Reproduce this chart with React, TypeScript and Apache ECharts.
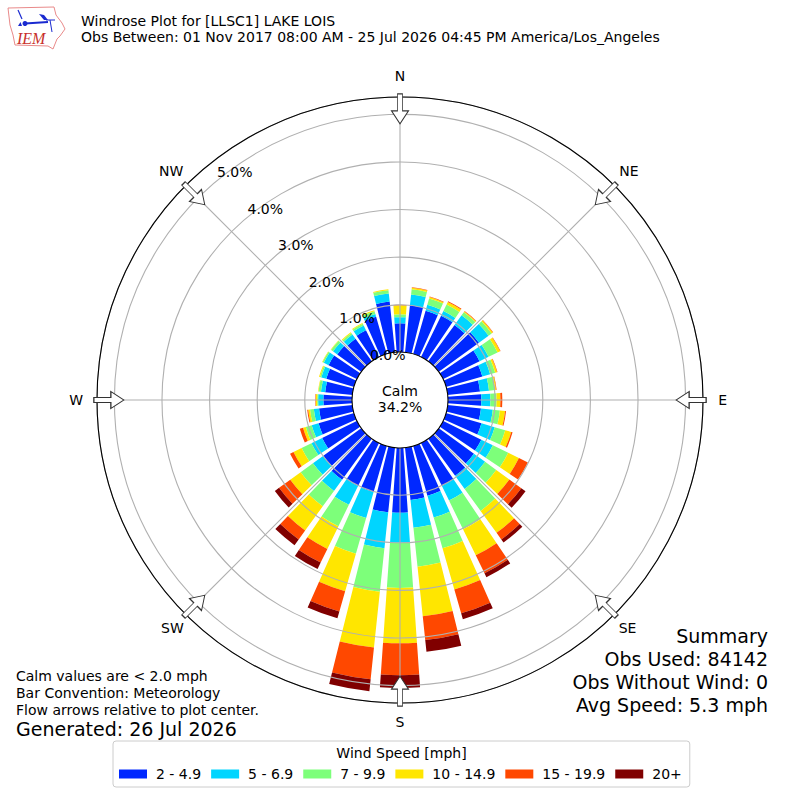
import { useEffect, useRef } from 'react';
import * as echarts from 'echarts';

const FONT = '"DejaVu Sans"';

const speedBins = ['2 - 4.9', '5 - 6.9', '7 - 9.9', '10 - 14.9', '15 - 19.9', '20+'];
const binColors = ['#0028ff', '#00d5ff', '#7dff7a', '#ffe600', '#ff4800', '#800000'];

// direction bins, clockwise from north
const directions = ['0', '10', '20', '30', '40', '50', '60', '70', '80', '90', '100', '110', '120', '130', '140', '150', '160', '170', '180', '190', '200', '210', '220', '230', '240', '250', '260', '270', '280', '290', '300', '310', '320', '330', '340', '350'];

// percent of observations per direction
const speed2 = [0.61, 1.0, 0.95, 0.97, 0.95, 1.05, 0.86, 0.8, 0.69, 0.71, 0.71, 0.78, 0.9, 0.92, 0.97, 1.01, 1.09, 1.11, 1.37, 1.37, 1.01, 1.01, 1.07, 0.99, 0.82, 0.78, 0.71, 0.61, 0.58, 0.61, 0.67, 0.63, 0.59, 0.63, 0.82, 1.08];
const speed5 = [0.13, 0.23, 0.13, 0.11, 0.25, 0.25, 0.21, 0.17, 0.19, 0.19, 0.25, 0.29, 0.27, 0.29, 0.34, 0.34, 0.48, 0.59, 0.63, 0.76, 0.57, 0.44, 0.29, 0.27, 0.25, 0.15, 0.11, 0.11, 0.09, 0.11, 0.11, 0.11, 0.11, 0.11, 0.06, 0.17];
const speed7 = [0.06, 0.11, 0.14, 0.15, 0.08, 0.08, 0.21, 0.11, 0.13, 0.13, 0.15, 0.23, 0.36, 0.29, 0.57, 0.67, 0.67, 0.82, 0.95, 0.92, 0.78, 0.5, 0.4, 0.32, 0.23, 0.13, 0.08, 0.02, 0.05, 0.03, 0.03, 0.05, 0.04, 0.04, 0.06, 0.07];
const speed10 = [0.19, 0.03, 0.03, 0.06, 0.02, 0.03, 0.06, 0.04, 0.02, 0.08, 0.11, 0.13, 0.25, 0.34, 0.57, 0.61, 0.9, 1.05, 1.16, 1.18, 0.82, 0.53, 0.63, 0.27, 0.19, 0.06, 0.04, 0.03, 0.01, 0.02, 0.01, 0.01, 0.02, 0.02, 0.02, 0.02];
const speed15 = [0.01, 0.01, 0.01, 0.02, 0.01, 0.01, 0.01, 0.01, 0.01, 0.04, 0.02, 0.03, 0.21, 0.31, 0.17, 0.42, 0.52, 0.5, 0.67, 0.67, 0.44, 0.32, 0.23, 0.29, 0.08, 0.07, 0.02, 0.01, 0, 0, 0, 0, 0, 0, 0, 0];
const speed20 = [0, 0, 0, 0, 0, 0, 0, 0, 0, 0, 0, 0, 0, 0.11, 0.08, 0.09, 0.13, 0.25, 0.27, 0.25, 0.15, 0.15, 0.15, 0.11, 0, 0, 0, 0, 0, 0, 0, 0, 0, 0, 0, 0];
const speedValues = [speed2, speed5, speed7, speed10, speed15, speed20];

const compassNames = ['N', 'NE', 'E', 'SE', 'S', 'SW', 'W', 'NW'];
const compassAngles = [0, 45, 90, 135, 180, 225, 270, 315];
const compassRadius = [5.8, 5.8, 5.78, 5.76, 5.76, 5.76, 5.8, 5.8];
const percentTicks = [0, 1, 2, 3, 4, 5];

const titleLines = ['Windrose Plot for [LLSC1] LAKE LOIS', 'Obs Between: 01 Nov 2017 08:00 AM - 25 Jul 2026 04:45 PM America/Los_Angeles'];
const summaryLines = ['Summary', 'Obs Used: 84142', 'Obs Without Wind: 0', 'Avg Speed: 5.3 mph'];
const noteLines = ['Calm values are < 2.0 mph', 'Bar Convention: Meteorology', 'Flow arrows relative to plot center.'];

const arrowPath = 'path://M6 0 L11 0 L11 17 L17 17 L8.5 30 L0 17 L6 17 Z';

const radiusAxisBase = { type: 'value', min: -1, max: 5.365, interval: 1 };

function text(str: string, x: number, y: number, size: number, align = 'left') {
  return {
    type: 'text',
    x,
    y,
    z: 30,
    style: { text: str, fontFamily: FONT, fontSize: size, fill: '#000', align, verticalAlign: 'middle' },
  };
}

function logo() {
  const blue = '#1a2ad0';
  return [
    {
      type: 'polygon',
      z: 30,
      shape: { points: [[8, 8], [54, 7], [56, 15], [62, 23], [65, 29], [60, 36], [57, 39], [53, 49], [48, 46], [15, 45], [13, 35], [10, 25]] },
      style: { fill: '#fff', stroke: '#e98a8a', lineWidth: 1 },
    },
    { type: 'line', z: 31, shape: { x1: 25, y1: 23.5, x2: 48, y2: 22 }, style: { stroke: blue, lineWidth: 2 } },
    { type: 'line', z: 31, shape: { x1: 18, y1: 10, x2: 22, y2: 19 }, style: { stroke: blue, lineWidth: 1.2 } },
    { type: 'circle', z: 31, shape: { cx: 25, cy: 23.5, r: 2.5 }, style: { fill: blue } },
    { type: 'polygon', z: 31, shape: { points: [[39, 14], [44, 15], [48, 20], [44, 20]] }, style: { fill: blue } },
    { type: 'polygon', z: 31, shape: { points: [[18, 26], [20.5, 22], [22, 26]] }, style: { fill: blue } },
    { type: 'line', z: 31, shape: { x1: 50, y1: 20, x2: 52, y2: 32 }, style: { stroke: blue, lineWidth: 1 } },
    { type: 'line', z: 31, shape: { x1: 46, y1: 20, x2: 55, y2: 20 }, style: { stroke: blue, lineWidth: 1 } },
    {
      type: 'text',
      x: 17,
      y: 38,
      z: 31,
      style: { text: 'IEM', fontFamily: '"Liberation Serif"', fontStyle: 'italic', fontSize: 16, fill: '#c8302c', align: 'left', verticalAlign: 'middle' },
    },
  ];
}

export default function App() {
  const chartRef = useRef<HTMLDivElement>(null);

  useEffect(() => {
    if (!chartRef.current) return;
    const chart = echarts.init(chartRef.current, undefined, { renderer: 'svg' });

    const barSeries = speedBins.map((name, i) => ({
      name,
      type: 'bar',
      coordinateSystem: 'polar',
      polarIndex: 1,
      stack: 'speed',
      barWidth: '80%',
      z: 2,
      itemStyle: { color: binColors[i] },
      data: speedValues[i],
    }));

    const option: any = {
      animation: false,
      backgroundColor: '#fff',
      textStyle: { fontFamily: FONT },
      polar: [
        { center: [400, 400], radius: 303 },
        { center: [400, 400], radius: 303 },
      ],
      angleAxis: [
        {
          polarIndex: 0,
          type: 'value',
          min: 0,
          max: 360,
          interval: 45,
          startAngle: 90,
          clockwise: true,
          z: 5,
          axisLine: { lineStyle: { color: '#000', width: 1.1 } },
          axisTick: { show: false },
          axisLabel: { show: false },
          splitLine: { lineStyle: { color: '#b0b0b0', width: 1.1 } },
        },
        {
          polarIndex: 1,
          type: 'category',
          data: directions,
          startAngle: 95,
          clockwise: true,
          axisLine: { show: false },
          axisTick: { show: false },
          axisLabel: { show: false },
          splitLine: { show: false },
        },
      ],
      radiusAxis: [
        {
          ...radiusAxisBase,
          polarIndex: 0,
          z: 5,
          axisLine: { show: false },
          axisTick: { show: false },
          axisLabel: { show: false },
          splitLine: { lineStyle: { color: '#b0b0b0', width: 1.1 } },
        },
        {
          ...radiusAxisBase,
          polarIndex: 1,
          axisLine: { show: false },
          axisTick: { show: false },
          axisLabel: { show: false },
          splitLine: { show: false },
        },
      ],
      legend: {
        left: 113,
        top: 741,
        data: speedBins,
        icon: 'rect',
        itemWidth: 28,
        itemHeight: 9,
        itemGap: 10,
        padding: [26, 8, 6, 6],
        borderColor: '#ccc',
        borderWidth: 1,
        borderRadius: 3,
        backgroundColor: '#fff',
        selectedMode: false,
        textStyle: { fontFamily: FONT, fontSize: 14, color: '#000', padding: [0, 0, 0, 4] },
      },
      series: [
        ...barSeries,
        {
          name: 'arrows',
          type: 'scatter',
          coordinateSystem: 'polar',
          polarIndex: 0,
          z: 20,
          silent: true,
          clip: false,
          symbol: arrowPath,
          symbolSize: [17, 30],
          symbolKeepAspect: false,
          itemStyle: { color: '#fff', borderColor: '#333', borderWidth: 1, opacity: 1 },
          data: compassAngles.map(a => ({ value: [5.116, a], symbolRotate: -a })),
        },
        {
          name: 'compass',
          type: 'scatter',
          coordinateSystem: 'polar',
          polarIndex: 0,
          z: 25,
          silent: true,
          clip: false,
          symbolSize: 1,
          itemStyle: { color: 'transparent', opacity: 1 },
          label: { show: true, position: 'inside', formatter: '{b}', fontFamily: FONT, fontSize: 14, color: '#000' },
          data: compassAngles.map((a, i) => ({ name: compassNames[i], value: [compassRadius[i], a] })),
        },
        {
          name: 'percent',
          type: 'scatter',
          coordinateSystem: 'polar',
          polarIndex: 0,
          z: 40,
          zlevel: 1,
          silent: true,
          clip: false,
          symbolSize: 1,
          itemStyle: { color: 'transparent', opacity: 1 },
          label: { show: true, position: 'right', distance: 1, offset: [-1, -9], formatter: '{b}', fontFamily: FONT, fontSize: 14, color: '#000' },
          data: percentTicks.map(p => ({ name: `${p.toFixed(1)}%`, value: [p, 320] })),
        },
      ],
      graphic: [
        { type: 'circle', z: 10, shape: { cx: 400, cy: 400, r: 48 }, style: { fill: '#fff', stroke: '#000', lineWidth: 1.1 } },
        text('Calm', 400, 391, 14, 'center'),
        text('34.2%', 400, 407, 14, 'center'),
        ...logo(),
        text(titleLines[0], 81, 21, 14),
        text(titleLines[1], 81, 37, 14),
        ...summaryLines.map((s, i) => text(s, 768, 636 + i * 23, 19, 'right')),
        ...noteLines.map((s, i) => text(s, 16, 676 + i * 17, 14)),
        text('Generated: 26 Jul 2026', 16, 729, 19),
        text('Wind Speed [mph]', 401.5, 753, 14, 'center'),
      ],
    };

    chart.setOption(option);

    return () => {
      chart.dispose();
    };
  }, []);

  return <div ref={chartRef} style={{ position: 'fixed', left: 0, top: 0, width: 800, height: 800 }} />;
}
